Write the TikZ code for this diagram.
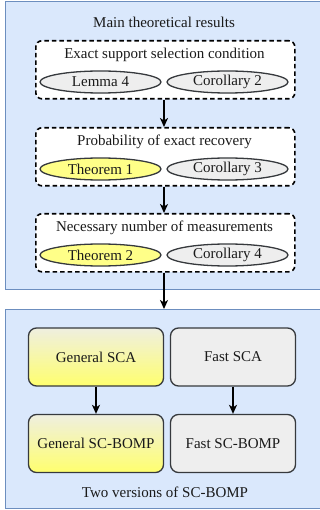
\documentclass[tikz,border=0pt]{standalone}
\usepackage{fontspec}
\setmainfont{Liberation Serif}
\usepackage{tikz}
\usetikzlibrary{arrows.meta,positioning,fit,backgrounds,shapes.geometric}
\definecolor{panelfill}{HTML}{DAE8FC}
\definecolor{panelline}{HTML}{6C8EBF}
\definecolor{gfill}{HTML}{EEEEEE}
\definecolor{gline}{HTML}{36393D}
\definecolor{yfill}{HTML}{FFFF88}
\definecolor{ytop}{HTML}{EFEFE0}
\definecolor{ybot}{HTML}{FFFF6E}
\definecolor{ink}{HTML}{1A1A1A}
\tikzset{
  panel/.style={draw=panelline,fill=panelfill,line width=1.4pt,anchor=north west,inner sep=0pt},
  group/.style={draw=black,dash pattern=on 4.5pt off 3pt,line width=1.6pt,rounded corners=6pt,fill=white,anchor=north west,minimum width=259pt,minimum height=58pt,inner sep=0pt},
  res/.style={ellipse,draw=gline,fill=gfill,line width=1.3pt,minimum width=121pt,minimum height=22pt,inner sep=0pt,text=ink},
  thm/.style={res,fill=yfill},
  algo/.style={draw=gline,fill=gfill,rounded corners=8pt,line width=1.3pt,minimum height=58pt,inner sep=0pt,text=ink},
  galgo/.style={algo,top color=ytop,bottom color=ybot},
  ttl/.style={text=ink,inner sep=0pt},
  arr/.style={-{Stealth[length=9pt,width=8pt,inset=2.5pt]},line width=1.5pt,color=black}}

\begin{document}
\begin{tikzpicture}[x=1pt,y=-1pt,font=\rmfamily\fontsize{15}{18}\selectfont]
\useasboundingbox (0,0) rectangle (320,510);
% panels
\node[panel,minimum width=330pt,minimum height=288pt] (main) at (5,1) {};
\node[panel,minimum width=330pt,minimum height=199pt] (versions) at (5,309) {};
\node[ttl] (mainlbl) at (164,22) {Main theoretical results};
\node[ttl] (verlbl) at (165,492) {Two versions of SC-BOMP};
% groups of results
\node[group] (g1) at (35,40) {};
\node[ttl] (g1lbl) at (164.5,55) {Exact support selection condition};
\node[res] (lem4) at (100.5,82) {Lemma 4};
\node[res] (cor2) at (227.5,82) {Corollary 2};
\node[group] (g2) at (35,127) {};
\node[ttl] (g2lbl) at (164.5,142) {Probability of exact recovery};
\node[thm] (thm1) at (100.5,169) {Theorem 1};
\node[res] (cor3) at (227.5,169) {Corollary 3};
\node[group] (g3) at (35,213) {};
\node[ttl] (g3lbl) at (164.5,228) {Necessary number of measurements};
\node[thm] (thm2) at (100.5,255) {Theorem 2};
\node[res] (cor4) at (227.5,255) {Corollary 4};
% algorithms
\node[galgo,minimum width=135pt] (gsca) at (96,357) {General SCA};
\node[algo,minimum width=125pt] (fsca) at (233,357) {Fast SCA};
\node[galgo,minimum width=135pt] (gbomp) at (96,443.5) {General SC-BOMP};
\node[algo,minimum width=125pt] (fbomp) at (233,443.5) {Fast SC-BOMP};
\draw[arr] (g1.south -| 164,0) -- (g2.north -| 164,0);
\draw[arr] (g2.south -| 164,0) -- (g3.north -| 164,0);
\draw[arr] (g3.south -| 164,0) -- (versions.north -| 164,0);
\draw[arr] (gsca) -- (gbomp);
\draw[arr] (fsca) -- (fbomp);
\end{tikzpicture}
\end{document}
